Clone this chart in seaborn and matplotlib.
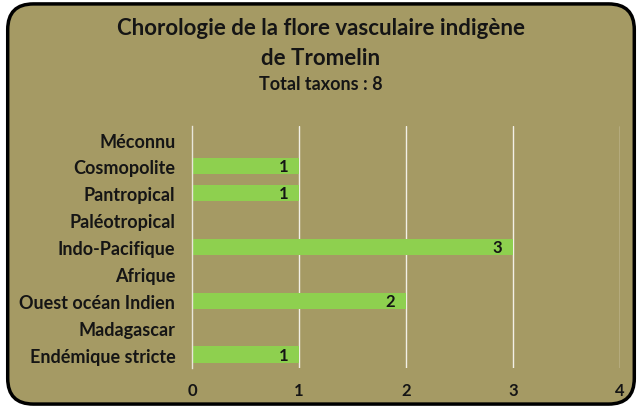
import matplotlib
matplotlib.use("Agg")
import matplotlib.pyplot as plt
import seaborn as sns
import pandas as pd
import numpy as np
from matplotlib.patches import FancyBboxPatch

categories = ["Méconnu", "Cosmopolite", "Pantropical", "Paléotropical", "Indo-Pacifique",
              "Afrique", "Ouest océan Indien", "Madagascar", "Endémique stricte"]
values = [0, 1, 1, 0, 3, 0, 2, 0, 1]
x_ticks = [0, 1, 2, 3, 4]

sns.set_theme(style="white")
plt.rcParams['font.family'] = ['Lato', 'DejaVu Sans']

bg = "#A59A64"
green = "#8ED04F"
txt = "#151515"

fig = plt.figure(figsize=(6.42, 4.10), dpi=100)
fig.patch.set_facecolor("white")
box = FancyBboxPatch((0.012, 0.012), 0.976, 0.976, boxstyle="round,pad=0,rounding_size=0.04",
                     transform=fig.transFigure, facecolor=bg, edgecolor="black", linewidth=2.5,
                     mutation_aspect=642/410, zorder=-10)
fig.patches.append(box)

ax = fig.add_axes([0.299, 0.100, 0.667, 0.590])
ax.set_zorder(5)
ax.set_facecolor("none")
df = pd.DataFrame({"cat": categories, "val": values})
sns.barplot(data=df, x="val", y="cat", color=green, saturation=1, width=0.6, ax=ax,
            order=categories, edgecolor="none", linewidth=0)

ax.set_xlim(0, 4)
ax.set_ylim(len(categories) - 0.5, -0.5)
ax.set_xticks(x_ticks)
ax.set_xticklabels([str(t) for t in x_ticks], fontsize=12, fontweight="bold", color=txt)
ax.set_yticks(range(len(categories)))
ax.set_yticklabels(categories, fontsize=13, fontweight="bold", color=txt)
ax.set_xlabel("")
ax.set_ylabel("")
for t in x_ticks[1:]:
    ax.axvline(t, color="#F2F0E6", lw=1.0, zorder=0)
for s in ["top", "right", "bottom"]:
    ax.spines[s].set_visible(False)
ax.spines["left"].set_color("#E8E6DA")
ax.spines["left"].set_linewidth(1.0)
ax.tick_params(axis="y", which="major", length=0, pad=12)
ax.tick_params(axis="x", length=0, pad=10)
ax.set_yticks(np.arange(-0.5, len(categories), 1), minor=True)
ax.tick_params(axis="y", which="minor", length=5, color="#E8E6DA", width=1)

for i, v in enumerate(values):
    if v > 0:
        ax.text(v - 0.1, i, str(v), ha="right", va="center", fontsize=12,
                fontweight="bold", color=txt)

fig.text(0.5, 0.930, "Chorologie de la flore vasculaire indigène", ha="center", va="center",
         fontsize=16, fontweight="bold", color=txt)
fig.text(0.5, 0.858, "de Tromelin", ha="center", va="center",
         fontsize=16, fontweight="bold", color=txt)
fig.text(0.5, 0.795, "Total taxons : 8", ha="center", va="center",
         fontsize=13, fontweight="bold", color=txt)

fig.savefig("out.png", dpi=100, facecolor=fig.get_facecolor())
